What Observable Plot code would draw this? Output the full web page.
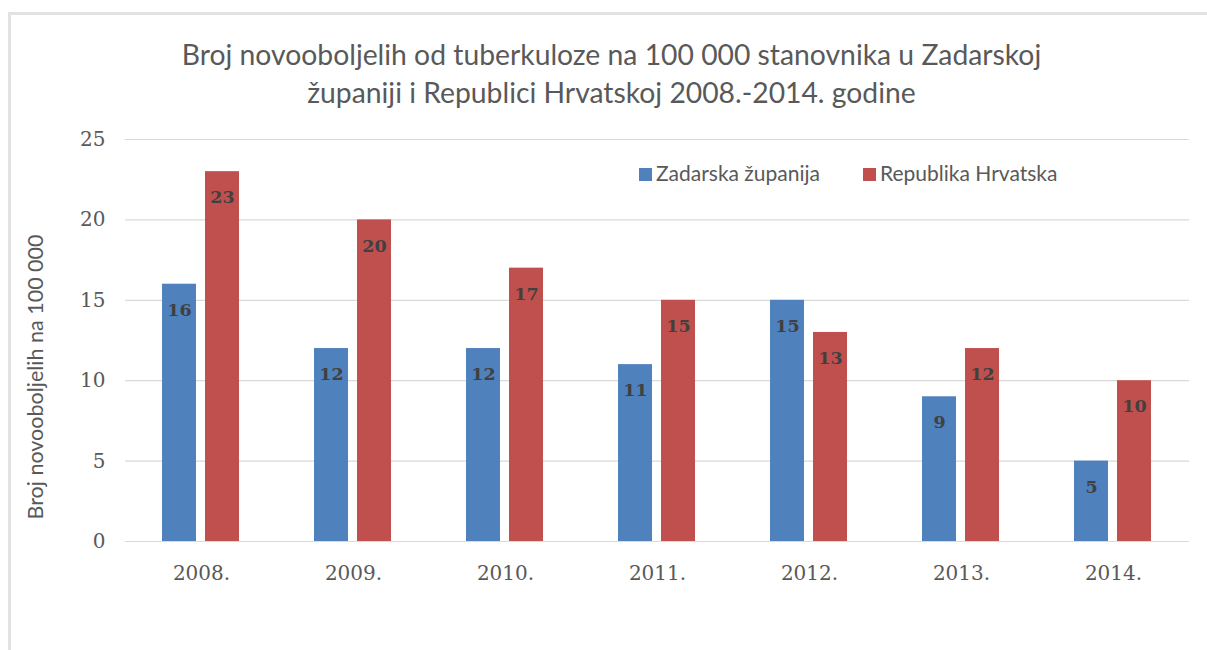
<!DOCTYPE html>
<html>
<head>
<meta charset="utf-8">
<script src="https://cdn.jsdelivr.net/npm/d3@7"></script>
<script src="https://cdn.jsdelivr.net/npm/@observablehq/plot@0.6"></script>
<style>
  html, body { margin: 0; padding: 0; background: #fff; }
  #wrap { position: relative; width: 1207px; height: 650px; overflow: hidden; background: #fff; }
  #frame { position: absolute; left: 8px; top: 12px; right: -10px; bottom: -10px;
           border-top: 3px solid #e2e2e2; border-left: 3px solid #e2e2e2; }
  #title { position: absolute; left: 16px; width: 1191px; top: 35px; text-align: center;
           font-family: Lato, "Open Sans", sans-serif; font-size: 28.3px; line-height: 38px; color: #595959; }
  #ylabel { position: absolute; left: 35px; top: 377px; transform: translate(-50%, -50%) rotate(-90deg);
            white-space: nowrap; font-family: Lato, sans-serif; font-size: 21.5px; color: #595959; }
  .leg { position: absolute; top: 160px; font-family: Lato, sans-serif; font-size: 21px; color: #595959;
         line-height: 26px; white-space: nowrap; }
  .sw { display: inline-block; width: 13px; height: 13px; vertical-align: 0px; margin-right: 4px; }
  #chart { position: absolute; left: 0; top: 120px; }
</style>
</head>
<body>
<div id="wrap">
  <div id="frame"></div>
  <div id="title"></div>
  <div id="ylabel"></div>
  <div id="legend"></div>
  <div id="chart"></div>
</div>
<script>
const titleLines = ["Broj novooboljelih od tuberkuloze na 100 000 stanovnika u Zadarskoj",
                    "županiji i Republici Hrvatskoj 2008.-2014. godine"];
const yAxisLabel = "Broj novooboljelih na 100 000";
const years = ["2008.", "2009.", "2010.", "2011.", "2012.", "2013.", "2014."];
const seriesNames = ["Zadarska županija", "Republika Hrvatska"];
const zadarska = [16, 12, 12, 11, 15, 9, 5];
const hrvatska = [23, 20, 17, 15, 13, 12, 10];
const yTicks = [0, 5, 10, 15, 20, 25];
const colors = ["#4F81BD", "#C0504D"];

const data = years.flatMap((y, i) => [
  {year: y, series: seriesNames[0], value: zadarska[i]},
  {year: y, series: seriesNames[1], value: hrvatska[i]}
]);

document.getElementById("title").innerHTML = titleLines.join("<br>");
document.getElementById("ylabel").textContent = yAxisLabel;

const legend = document.getElementById("legend");
const legLeft = [639, 863];
seriesNames.forEach((s, i) => {
  const d = document.createElement("div");
  d.className = "leg";
  d.style.left = legLeft[i] + "px";
  d.innerHTML = `<span class="sw" style="background:${colors[i]}"></span>${s}`;
  legend.appendChild(d);
});

const chart = Plot.plot({
  width: 1207,
  height: 480,
  marginLeft: 124,
  marginRight: 17.5,
  marginTop: 19,
  marginBottom: 59,
  style: {fontFamily: "'DejaVu Serif', serif", fontSize: "20px", color: "#595959", background: "transparent"},
  fx: {domain: years, paddingInner: 0, paddingOuter: 0, label: null, axis: "bottom", tickSize: 0, tickPadding: 24},
  x: {domain: seriesNames, paddingInner: 0.2, paddingOuter: 0.862, align: 0.5, axis: null},
  y: {domain: [0, 25], ticks: yTicks, tickSize: 0, tickPadding: 20, label: null},
  color: {domain: seriesNames, range: colors},
  marks: [
    Plot.ruleY(yTicks, {stroke: "#d9d9d9", strokeWidth: 1.2}),
    Plot.barY(data, {fx: "year", x: "series", y: "value", fill: "series"}),
    Plot.text(data, {fx: "year", x: "series", y: "value", text: d => String(d.value), dy: 26,
                     fill: "#404040", fontWeight: "bold", fontSize: 17.5})
  ]
});
document.getElementById("chart").appendChild(chart);
</script>
</body>
</html>
